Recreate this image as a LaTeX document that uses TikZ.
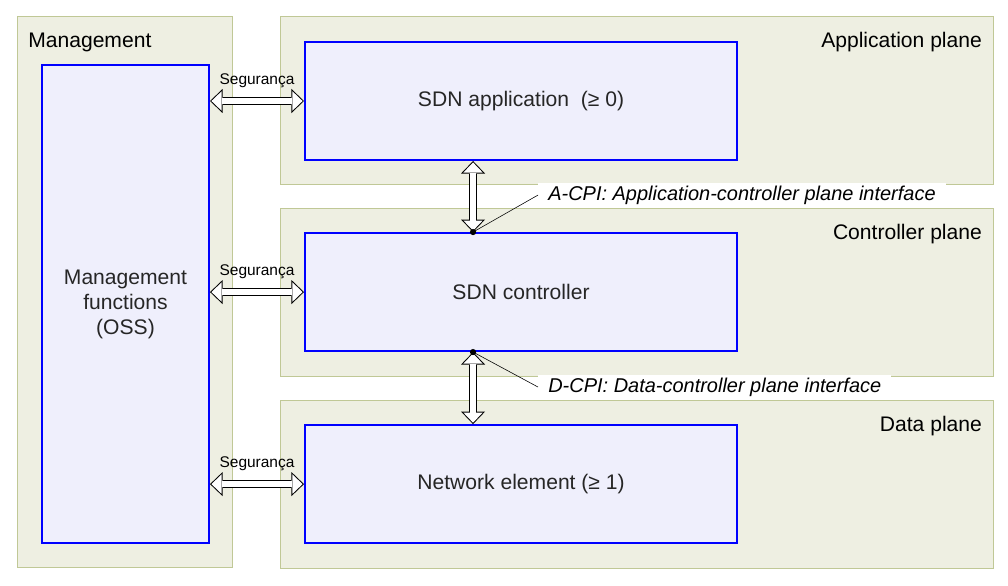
\documentclass[tikz,border=0pt]{standalone}
\usepackage{fontspec}
\setmainfont{Liberation Sans}
\usepackage{xcolor}
\usetikzlibrary{arrows.meta, positioning, calc}

\definecolor{planefill}{RGB}{238,239,226}
\definecolor{planeline}{RGB}{192,200,150}
\definecolor{boxfill}{RGB}{239,239,252}
\definecolor{boxline}{RGB}{0,0,255}

% hollow double arrow: black outline pass, then white inner pass
\newcommand\fatarrow[2]{%
    \draw[fatout] (#1) -- (#2);
    \draw[fatin] (#1) -- (#2);}

\begin{document}
\begin{tikzpicture}[
    x=0.025cm, y=-0.025cm,
    plane/.style = {rectangle, draw=planeline, fill=planefill, line width=0.7pt, outer sep=0pt, minimum width=17.825cm, minimum height=4.2cm, inner sep=0pt},
    funcbox/.style = {rectangle, draw=boxline, fill=boxfill, line width=1.4pt, minimum width=10.8cm, minimum height=2.95cm, text=black!85, font=\fontsize{15}{17.8}\selectfont, align=center},
    title/.style = {font=\fontsize{15}{18}\selectfont, inner sep=0pt},
    secure/.style = {font=\fontsize{11}{13}\selectfont, inner sep=0pt},
    iface/.style = {fill=white, inner xsep=0.25cm, inner ysep=2pt, font=\fontsize{14.2}{17}\selectfont\itshape},
    fatout/.style = {black, line width=5.7pt, {Triangle[length=8.9pt, width=17.1pt, line width=0pt]}-{Triangle[length=8.9pt, width=17.1pt, line width=0pt]}},
    fatin/.style = {white, line width=4.27pt, shorten >=1.03pt, shorten <=1.03pt, {Triangle[length=7.15pt, width=13.7pt, line width=0pt]}-{Triangle[length=7.15pt, width=13.7pt, line width=0pt]}}
]
    \useasboundingbox (0,0) rectangle (1008,586);

    % management column
    \node[plane, minimum width=5.375cm, minimum height=13.775cm, anchor=north west] (mgmt) at (17,16) {};
    \node[title, anchor=base west] (mgmttitle) at ($(mgmt.north west)+(11,31)$) {Management};
    \node[funcbox, minimum width=4.175cm, minimum height=11.95cm, anchor=north west] (oss) at (41,64) {Management\\functions\\(OSS)};

    % planes
    \node[plane, anchor=north west] (appplane) at (280,16) {};
    \node[plane, below=0.6cm of appplane] (ctrlplane) {};
    \node[plane, below=0.6cm of ctrlplane] (dataplane) {};
    \node[title, anchor=base east] (apptitle) at ($(appplane.north east)+(-11,31)$) {Application plane};
    \node[title, anchor=base east] (ctrltitle) at ($(ctrlplane.north east)+(-11,31)$) {Controller plane};
    \node[title, anchor=base east] (datatitle) at ($(dataplane.north east)+(-11,31)$) {Data plane};

    \node[funcbox, anchor=north west] (app) at ($(appplane.north west)+(24,25)$) {SDN application~ (≥ 0)};
    \node[funcbox, anchor=north west] (ctrl) at ($(ctrlplane.north west)+(24,24)$) {SDN controller};
    \node[funcbox, anchor=north west] (data) at ($(dataplane.north west)+(24,24)$) {Network element (≥ 1)};

    \coordinate (acpi) at ($(ctrl.north)+(-48,0)$);
    \coordinate (dcpi) at ($(ctrl.south)+(-48,0)$);

    % interface labels
    \node[iface, anchor=west] (acpilabel) at ($(acpi)+(65,-37)$) {A-CPI: Application-controller plane interface};
    \node[iface, anchor=west] (dcpilabel) at ($(dcpi)+(65,35)$) {D-CPI: Data-controller plane interface};

    % arrows
    \fatarrow{oss.east |- app}{app.west}
    \fatarrow{oss.east |- ctrl}{ctrl.west}
    \fatarrow{oss.east |- data}{data.west}
    \fatarrow{app.south -| acpi}{acpi}
    \fatarrow{dcpi}{data.north -| dcpi}

    \node[secure, anchor=base] (secapp) at ($(oss.east |- app)!0.5!(app.west)+(0,-17)$) {Segurança};
    \node[secure, anchor=base] (secctrl) at ($(oss.east |- ctrl)!0.5!(ctrl.west)+(0,-17)$) {Segurança};
    \node[secure, anchor=base] (secdata) at ($(oss.east |- data)!0.5!(data.west)+(0,-17)$) {Segurança};

    \draw (acpi) -- (acpilabel.west);
    \draw (dcpi) -- (dcpilabel.west);
    \fill (acpi) circle (2.2pt);
    \fill (dcpi) circle (2.2pt);
\end{tikzpicture}
\end{document}
